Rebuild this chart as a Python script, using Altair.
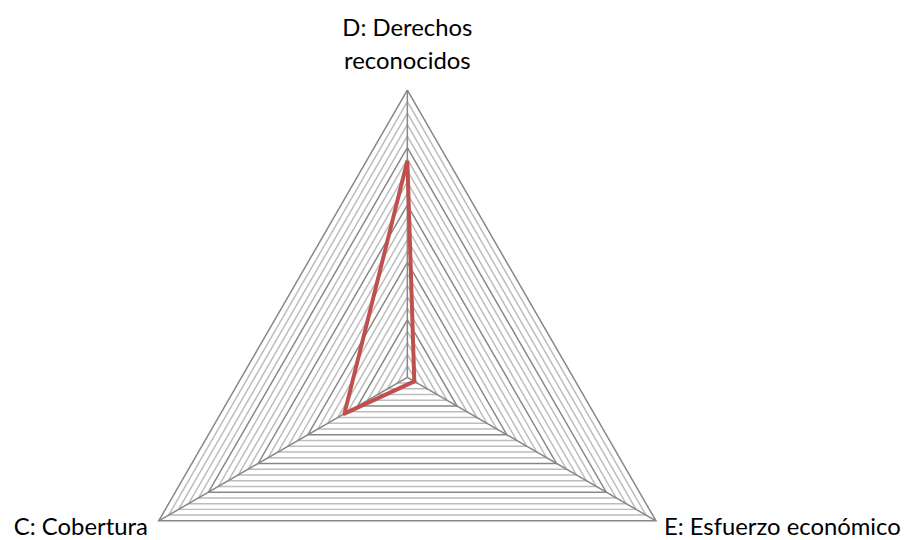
import altair as alt
import pandas as pd

# ---- data ----
categories = ["D: Derechos reconocidos", "E: Esfuerzo económico", "C: Cobertura"]
label_text = ["D: Derechos\nreconocidos", "E: Esfuerzo económico", "C: Cobertura"]
angles = [0, 120, 240]            # clockwise from top
values = [0.754, 0.028, 0.253]    # share of the outer ring
n_rings = 25                      # 5 major rings, 4 minor between each
major_every = 5

# ---- tables ----
ring_rows = []
for i in range(1, n_rings + 1):
    for k in range(4):
        ring_rows.append({"level": i, "r": i / n_rings, "angle": angles[k % 3], "ord": k,
                          "major": i % major_every == 0})
rings = pd.DataFrame(ring_rows)

spoke_rows = []
for c, a in zip(categories, angles):
    spoke_rows.append({"cat": c, "r": 0.0, "angle": a, "ord": 0})
    spoke_rows.append({"cat": c, "r": 1.0, "angle": a, "ord": 1})
spokes = pd.DataFrame(spoke_rows)

series = pd.DataFrame({"cat": categories + categories[:1],
                       "r": values + values[:1],
                       "angle": angles + angles[:1],
                       "ord": list(range(4))})

labels = pd.DataFrame({"cat": categories, "text": label_text, "r": [1.0] * 3, "angle": angles})

PX = 289.0
W, H = 910, 532
cx, cy = 402.0, 370.0
xs = alt.Scale(domain=[-cx / PX, (W - cx) / PX], nice=False, zero=False)
ys = alt.Scale(domain=[-(H - cy) / PX, cy / PX], nice=False, zero=False)


def polar(ch):
    return ch.transform_calculate(
        x="datum.r * sin(datum.angle * PI / 180)",
        y="datum.r * cos(datum.angle * PI / 180)",
    )


X = alt.X("x:Q", scale=xs, axis=None)
Y = alt.Y("y:Q", scale=ys, axis=None)

minor = polar(alt.Chart(rings).transform_filter("!datum.major")).mark_line(
    color="#bcbcbc", strokeWidth=1.5).encode(x=X, y=Y, detail="level:N", order="ord:Q")
major = polar(alt.Chart(rings).transform_filter("datum.major")).mark_line(
    color="#878787", strokeWidth=1.5).encode(x=X, y=Y, detail="level:N", order="ord:Q")
spk = polar(alt.Chart(spokes)).mark_line(color="#878787", strokeWidth=1.5).encode(
    x=X, y=Y, detail="cat:N", order="ord:Q")
red = polar(alt.Chart(series)).mark_line(
    color="#c0504d", strokeWidth=4, strokeJoin="round").encode(x=X, y=Y, order="ord:Q")

font = dict(font="Lato", fontSize=24, color="#000000")
lab_d = polar(alt.Chart(labels).transform_filter(f"datum.cat == '{categories[0]}'")).mark_text(
    align="center", baseline="alphabetic", dy=-55, lineBreak="\n", lineHeight=34, **font
).encode(x=X, y=Y, text="text:N")
lab_e = polar(alt.Chart(labels).transform_filter(f"datum.cat == '{categories[1]}'")).mark_text(
    align="left", baseline="alphabetic", dx=8, dy=14, **font
).encode(x=X, y=Y, text="text:N")
lab_c = polar(alt.Chart(labels).transform_filter(f"datum.cat == '{categories[2]}'")).mark_text(
    align="right", baseline="alphabetic", dx=-11, dy=14, **font
).encode(x=X, y=Y, text="text:N")

chart = alt.layer(minor, major, spk, red, lab_d, lab_e, lab_c).properties(
    width=W, height=H, padding=0, autosize=alt.AutoSizeParams(type="none"),
    background="white",
).configure_view(stroke=None)

chart.save("out.html", embed_options={"renderer": "svg", "actions": False})
